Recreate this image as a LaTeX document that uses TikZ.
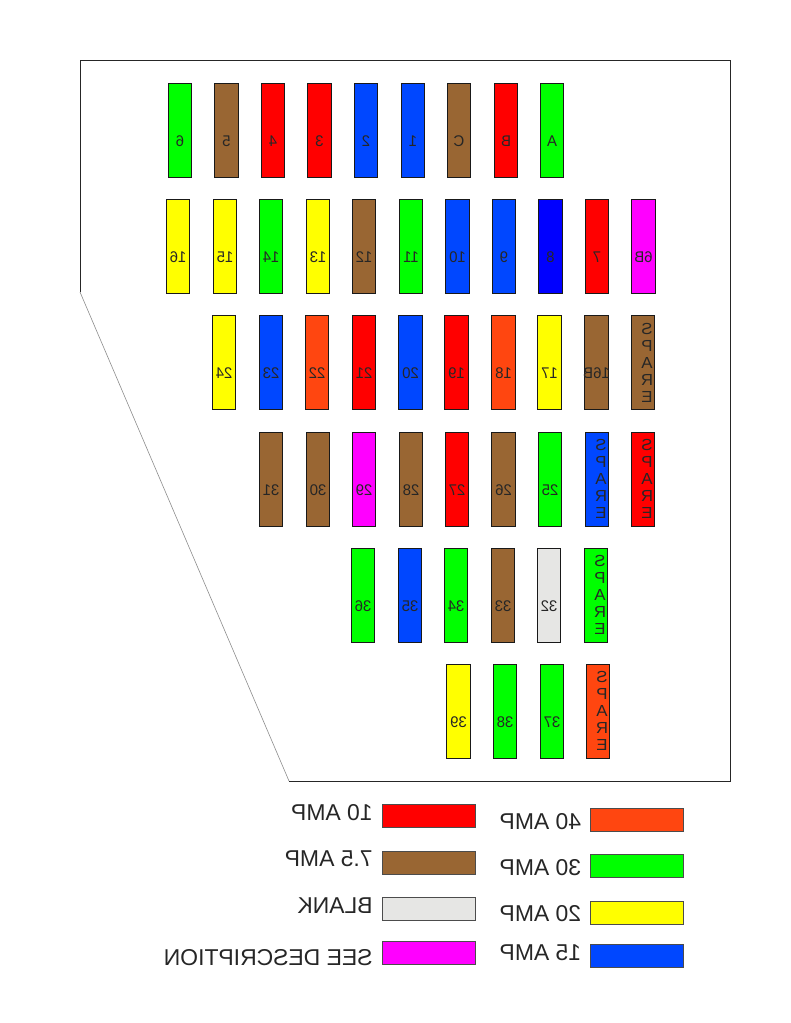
\documentclass[tikz,border=0pt]{standalone}
\usepackage{fontspec}
\setmainfont{Liberation Sans}
\definecolor{cgreen}{HTML}{00FF00}
\definecolor{cbrown}{HTML}{996633}
\definecolor{cred}{HTML}{FF0000}
\definecolor{cblue}{HTML}{0047FF}
\definecolor{cdeep}{HTML}{0000FF}
\definecolor{corange}{HTML}{FF4610}
\definecolor{cyell}{HTML}{FFFF00}
\definecolor{cmag}{HTML}{FF00FF}
\definecolor{cgrey}{HTML}{E6E6E4}
\tikzset{
  fuse/.style={draw=black!90,line width=0.7pt,inner sep=0pt,minimum width=23.6*0.75pt,minimum height=94*0.75pt},
  fuselabel/.style={xscale=-0.97,inner sep=0pt,font=\fontsize{11.6}{12}\selectfont,text=black!85},
  sparelabel/.style={xscale=-1.05,inner sep=0pt,align=center,font=\fontsize{12}{12.75}\selectfont,text=black!85},
  swatch/.style={draw=black!70,line width=0.7pt,inner sep=0pt,minimum width=93*0.75pt,minimum height=23.5*0.75pt},
  legendtext/.style={xscale=-1,inner sep=0pt,anchor=base west,font=\fontsize{17.2}{18}\selectfont,text=black!85},
}
\newcommand{\fusebox}[5]{% name, centre x, top y, colour, label
  \node[fuse,fill=#4] (f#1) at (#2,#3+47) {};
  \node[fuselabel] (t#1) at (#2,#3+58) {#5};
}
\newcommand{\sparebox}[4]{% name, centre x, top y, colour
  \node[fuse,fill=#4] (f#1) at (#2,#3+47) {};
  \node[sparelabel] (t#1) at (#2+4,#3+47) {S\\P\\A\\R\\E};
}
\newcommand{\legendrow}[6]{% name, swatch centre x, centre y, colour, text baseline y, text
  \node[swatch,fill=#4] (s#1) at (#2,#3) {};
  \node[legendtext] (l#1) at (#2-55.5,#5) {#6};
}
\begin{document}
\begin{tikzpicture}[x=0.75pt,y=-0.75pt]
\useasboundingbox (0,0) rectangle (791,1023);
\draw[black!85,line width=0.75pt] (80,292) -- (80,61) -- (730,61) -- (730,781) -- (289,781);
\draw[black!45,line width=0.45pt] (289,781) -- (80,292);
% row 1
\foreach \n/\x/\c/\t in {6/180/cgreen/6,5/226.5/cbrown/5,4/273/cred/4,3/319.5/cred/3,2/366/cblue/2,1/413/cblue/1,C/459/cbrown/C,B/506/cred/B,A/552/cgreen/A}{
  \fusebox{a\n}{\x}{83}{\c}{\t}
}
% row 2
\foreach \n/\x/\c/\t in {16/178/cyell/16,15/225/cyell/15,14/271/cgreen/14,13/318/cyell/13,12/364/cbrown/12,11/411/cgreen/11,10/457.5/cblue/10,9/504/cblue/9,8/550.5/cdeep/8,7/597/cred/7,6B/643.5/cmag/6B}{
  \fusebox{b\n}{\x}{199.5}{\c}{\t}
}
% row 3
\foreach \n/\x/\c/\t in {24/224/cyell/24,23/271/cblue/23,22/317/corange/22,21/364/cred/21,20/410.5/cblue/20,19/456.5/cred/19,18/503.5/corange/18,17/549.5/cyell/17,16B/596.5/cbrown/16B}{
  \fusebox{c\n}{\x}{315.5}{\c}{\t}
}
\sparebox{cS}{643}{315.5}{cbrown}
% row 4
\foreach \n/\x/\c/\t in {31/271/cbrown/31,30/318/cbrown/30,29/364/cmag/29,28/411/cbrown/28,27/457/cred/27,26/503.5/cbrown/26,25/550/cgreen/25}{
  \fusebox{d\n}{\x}{432}{\c}{\t}
}
\sparebox{dS1}{597}{432}{cblue}
\sparebox{dS2}{643}{432}{cred}
% row 5
\foreach \n/\x/\c/\t in {36/363/cgreen/36,35/410/cblue/35,34/456/cgreen/34,33/503/cbrown/33,32/549/cgrey/32}{
  \fusebox{e\n}{\x}{548}{\c}{\t}
}
\sparebox{eS}{596}{548}{cgreen}
% row 6
\foreach \n/\x/\c/\t in {39/458.5/cyell/39,38/505/cgreen/38,37/552/cgreen/37}{
  \fusebox{g\n}{\x}{664}{\c}{\t}
}
\sparebox{gS}{598}{664}{corange}
% legend
\legendrow{r1}{637}{820}{corange}{829}{40 AMP}
\legendrow{r2}{637}{866}{cgreen}{875}{30 AMP}
\legendrow{r3}{637}{913}{cyell}{921}{20 AMP}
\legendrow{r4}{637}{956}{cblue}{960}{15 AMP}
\legendrow{l1}{428.5}{816}{cred}{820}{10 AMP}
\legendrow{l2}{428.5}{863}{cbrown}{866}{7.5 AMP}
\legendrow{l3}{428.5}{909}{cgrey}{913}{BLANK}
\legendrow{l4}{428.5}{953}{cmag}{965}{SEE DESCRIPTION}
\end{tikzpicture}
\end{document}
